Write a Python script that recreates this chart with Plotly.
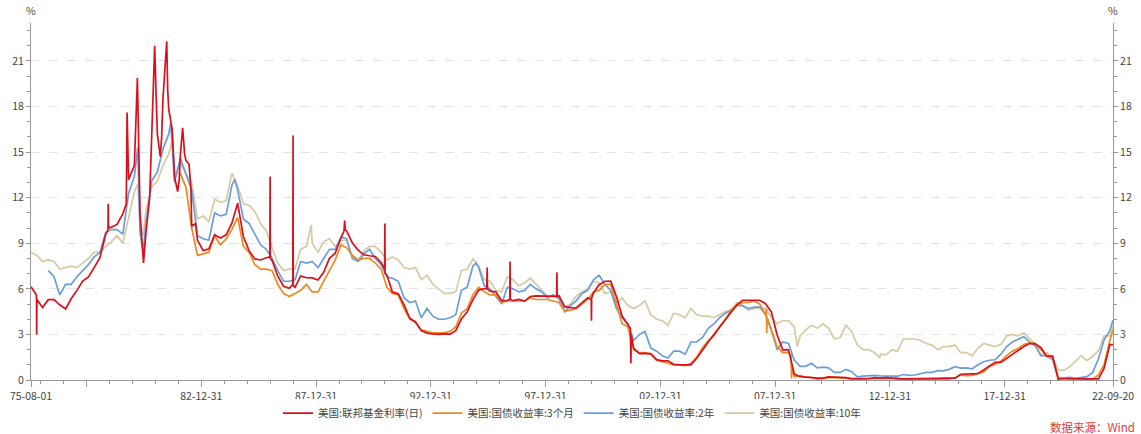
import pandas as pd
import plotly.graph_objects as go

# quarterly sample dates (Aug, Nov, Feb, May ...) plus final observation
q_dates = list(pd.date_range("1975-08-01", "2022-08-01", freq="3MS").strftime("%Y-%m-%d")) + ["2022-09-20"]

# 美国:联邦基金利率(日)
ff = [
    6.14, 5.22,                      # 1975 (Aug, Nov)
    4.77, 5.29, 5.29, 4.95,          # 1976
    4.68, 5.35, 5.90, 6.51,          # 1977
    6.78, 7.36, 8.04, 9.58,          # 1978
    10.06, 10.24, 10.94, 13.18,      # 1979
    14.13, 10.98, 9.61, 15.85,       # 1980
    16.17, 18.52, 17.82, 13.39,      # 1981
    14.78, 14.46, 10.12, 9.20,       # 1982
    8.51, 8.63, 9.56, 9.34,          # 1983
    9.56, 10.32, 11.64, 9.43,        # 1984
    8.50, 7.97, 7.90, 8.05,          # 1985
    7.86, 6.85, 6.17, 6.04,          # 1986
    6.10, 6.85, 6.73, 6.72,          # 1987
    6.58, 7.09, 8.01, 8.35,          # 1988
    9.36, 9.81, 9.02, 8.55,          # 1989
    8.24, 8.18, 8.13, 7.74,          # 1990
    6.91, 5.78, 5.68, 4.94,          # 1991
    4.06, 3.82, 3.25, 3.09,          # 1992
    3.03, 3.00, 3.04, 3.02,          # 1993
    3.25, 4.01, 4.47, 5.29,          # 1994
    5.92, 6.02, 5.85, 5.80,          # 1995
    5.22, 5.24, 5.22, 5.31,          # 1996
    5.19, 5.50, 5.54, 5.52,          # 1997
    5.51, 5.49, 5.55, 4.83,          # 1998
    4.76, 4.74, 5.07, 5.42,          # 1999
    5.73, 6.27, 6.50, 6.51,          # 2000
    5.49, 4.21, 3.65, 2.09,          # 2001
    1.74, 1.75, 1.74, 1.34,          # 2002
    1.26, 1.26, 1.03, 1.00,          # 2003
    1.01, 1.00, 1.43, 1.93,          # 2004
    2.50, 3.00, 3.50, 4.00,          # 2005
    4.49, 4.94, 5.25, 5.25,          # 2006
    5.26, 5.25, 5.02, 4.49,          # 2007
    2.98, 1.98, 2.00, 0.39,          # 2008
    0.22, 0.18, 0.16, 0.12,          # 2009
    0.13, 0.20, 0.19, 0.19,          # 2010
    0.16, 0.09, 0.10, 0.08,          # 2011
    0.10, 0.16, 0.13, 0.16,          # 2012
    0.15, 0.11, 0.08, 0.08,          # 2013
    0.07, 0.09, 0.09, 0.09,          # 2014
    0.11, 0.12, 0.14, 0.12,          # 2015
    0.38, 0.37, 0.40, 0.41,          # 2016
    0.66, 0.91, 1.16, 1.16,          # 2017
    1.42, 1.70, 1.91, 2.20,          # 2018
    2.40, 2.38, 2.13, 1.55,          # 2019
    1.58, 0.05, 0.10, 0.09,          # 2020
    0.08, 0.06, 0.09, 0.08,          # 2021
    0.08, 0.77, 2.33, 2.33,          # 2022 (Feb, May, Aug, Sep-20)
]

# daily spikes / swings of the fed funds rate
ff_extra_dates = [
    "1975-10-27", "1975-10-30", "1975-11-03",
    "1978-12-08", "1978-12-12", "1978-12-16",
    "1979-09-25", "1979-10-08", "1979-10-20",
    "1980-03-20", "1980-04-05", "1980-06-25", "1980-07-20", "1980-10-01",
    "1980-12-20", "1981-01-10", "1981-03-20", "1981-04-10",
    "1981-06-30", "1981-07-15", "1981-09-25", "1981-10-15",
    "1981-12-20", "1982-01-15", "1982-03-10", "1982-04-10",
    "1982-06-20", "1982-07-20", "1982-10-01",
    "1985-12-27", "1985-12-31", "1986-01-03",
    "1986-12-27", "1986-12-31", "1987-01-03",
    "1989-03-20", "1989-03-31", "1989-04-10",
    "1990-12-27", "1990-12-31", "1991-01-03",
    "1995-06-10", "1995-06-15", "1995-06-20",
    "1996-06-10", "1996-06-14", "1996-06-18",
    "1998-06-26", "1998-06-30", "1998-07-03",
    "1999-12-28", "1999-12-31", "2000-01-03",
    "2001-09-10", "2001-09-19", "2001-09-24",
]
ff_extra_values = [
    5.6, 3.0, 5.3,
    9.9, 11.6, 10.0,
    11.6, 17.6, 13.8,
    19.9, 16.5, 7.7, 9.0, 12.0,
    22.0, 19.0, 14.7, 16.0,
    22.3, 19.1, 16.5, 15.1,
    12.4, 13.2, 16.6, 14.9,
    14.2, 12.6, 10.3,
    8.1, 13.4, 8.0,
    6.3, 16.1, 6.2,
    9.8, 10.5, 9.9,
    7.3, 10.3, 7.0,
    6.0, 7.4, 6.0,
    5.3, 7.8, 5.3,
    5.5, 7.1, 5.5,
    5.3, 3.9, 5.4,
    3.4, 1.1, 3.0,
]

# 美国:国债收益率:3个月
t3m = [
    None, None,                      # 1975
    None, None, None, None,          # 1976
    None, None, None, None,          # 1977
    None, None, None, None,          # 1978
    None, None, None, None,          # 1979
    None, None, None, None,          # 1980
    None, None, None, None,          # 1981
    13.6, 12.7, 10.0, 8.2,           # 1982
    8.3, 8.4, 9.5, 8.9,              # 1983
    9.3, 9.9, 10.7, 8.8,             # 1984
    8.4, 7.6, 7.3, 7.3,              # 1985
    7.2, 6.3, 5.7, 5.5,              # 1986
    5.7, 5.9, 6.3, 5.8,              # 1987
    5.8, 6.5, 7.2, 7.9,              # 1988
    8.9, 8.7, 8.2, 7.9,              # 1989
    8.0, 8.0, 7.7, 7.3,              # 1990
    6.1, 5.7, 5.6, 4.7,              # 1991
    4.0, 3.8, 3.3, 3.2,              # 1992
    3.1, 3.1, 3.1, 3.2,              # 1993
    3.5, 4.4, 4.7, 5.6,              # 1994
    6.1, 5.8, 5.6, 5.6,              # 1995
    5.1, 5.2, 5.2, 5.2,              # 1996
    5.2, 5.4, 5.3, 5.3,              # 1997
    5.3, 5.2, 5.1, 4.5,              # 1998
    4.6, 4.7, 5.0, 5.3,              # 1999
    5.8, 5.9, 6.3, 6.3,              # 2000
    5.0, 3.7, 3.5, 2.0,              # 2001
    1.8, 1.8, 1.7, 1.3,              # 2002
    1.2, 1.1, 1.0, 1.0,              # 2003
    0.95, 1.1, 1.5, 2.1,             # 2004
    2.6, 2.9, 3.5, 4.0,              # 2005
    4.6, 4.9, 5.1, 5.1,              # 2006
    5.2, 5.0, 4.3, 3.3,              # 2007
    2.2, 1.8, 1.8, 0.2,              # 2008
    0.3, 0.18, 0.18, 0.05,           # 2009
    0.10, 0.16, 0.16, 0.14,          # 2010
    0.13, 0.05, 0.02, 0.01,          # 2011
    0.09, 0.09, 0.10, 0.09,          # 2012
    0.10, 0.05, 0.04, 0.07,          # 2013
    0.05, 0.03, 0.03, 0.02,          # 2014
    0.02, 0.02, 0.07, 0.13,          # 2015
    0.33, 0.28, 0.30, 0.45,          # 2016
    0.53, 0.90, 1.03, 1.25,          # 2017
    1.60, 1.90, 2.07, 2.33,          # 2018
    2.44, 2.40, 2.00, 1.57,          # 2019
    1.55, 0.13, 0.10, 0.09,          # 2020
    0.04, 0.02, 0.05, 0.05,          # 2021
    0.33, 1.00, 2.60, 3.30,          # 2022
]
t3m_extra_dates = ["1982-01-04", "2007-08-15", "2007-08-20", "2007-08-27",
                   "2008-09-10", "2008-09-17", "2008-09-25"]
t3m_extra_values = [13.6, 4.7, 3.1, 4.1, 1.6, 0.1, 0.8]

# 美国:国债收益率:2年
t2y = [
    None, None,                      # 1975
    None, 7.2, 6.8, 5.6,             # 1976
    6.3, 6.3, 6.8, 7.2,              # 1977
    7.6, 8.1, 8.4, 9.7,              # 1978
    9.9, 9.9, 9.6, 12.3,             # 1979
    13.4, 9.7, 10.2, 13.1,           # 1980
    13.7, 15.2, 16.2, 13.0,          # 1981
    14.6, 13.6, 12.5, 9.5,           # 1982
    9.3, 9.2, 11.0, 10.8,            # 1983
    10.9, 12.8, 12.5, 10.6,          # 1984
    10.3, 9.6, 8.9, 8.6,             # 1985
    8.0, 7.2, 6.5, 6.5,              # 1986
    6.6, 7.8, 7.7, 7.8,              # 1987
    7.4, 8.0, 8.6, 8.6,              # 1988
    9.4, 9.3, 8.0, 7.8,              # 1989
    8.3, 8.6, 8.0, 7.6,              # 1990
    6.8, 6.7, 6.5, 5.4,              # 1991
    5.1, 5.2, 4.1, 4.7,              # 1992
    4.2, 4.0, 4.0, 4.1,              # 1993
    4.3, 5.9, 6.1, 7.5,              # 1994
    7.4, 6.2, 6.0, 5.5,              # 1995
    5.0, 6.1, 6.0, 5.8,              # 1996
    5.9, 6.3, 6.0, 5.8,              # 1997
    5.4, 5.6, 5.4, 4.5,              # 1998
    4.9, 5.2, 5.7, 5.9,              # 1999
    6.6, 6.9, 6.3, 5.9,              # 2000
    4.7, 4.1, 3.7, 2.6,              # 2001
    3.0, 3.2, 2.1, 1.9,              # 2002
    1.6, 1.45, 1.9, 1.9,             # 2003
    1.7, 2.5, 2.5, 2.8,              # 2004
    3.4, 3.7, 4.1, 4.4,              # 2005
    4.6, 4.9, 4.9, 4.7,              # 2006
    4.8, 4.8, 4.3, 3.3,              # 2007
    2.0, 2.5, 2.4, 1.3,              # 2008
    0.9, 0.9, 1.1, 0.8,              # 2009
    0.85, 0.8, 0.5, 0.5,             # 2010
    0.7, 0.55, 0.2, 0.25,            # 2011
    0.3, 0.3, 0.27, 0.27,            # 2012
    0.27, 0.25, 0.36, 0.30,          # 2013
    0.33, 0.42, 0.50, 0.50,          # 2014
    0.62, 0.60, 0.70, 0.88,          # 2015
    0.78, 0.80, 0.74, 1.00,          # 2016
    1.20, 1.30, 1.33, 1.70,          # 2017
    2.20, 2.50, 2.65, 2.85,          # 2018
    2.50, 2.25, 1.60, 1.60,          # 2019
    1.35, 0.17, 0.14, 0.17,          # 2020
    0.11, 0.16, 0.22, 0.50,          # 2021
    1.40, 2.65, 3.25, 3.95,          # 2022
]
t2y_extra_dates = ["1980-03-25", "1980-06-20", "1981-09-01", "1984-06-15", "1994-12-20"]
t2y_extra_values = [15.3, 8.4, 16.9, 13.2, 7.7]

# 美国:国债收益率:10年
t10y = [
    8.4, 8.2,                        # 1975
    7.8, 7.9, 7.8, 7.3,              # 1976
    7.4, 7.5, 7.4, 7.7,              # 1977
    8.0, 8.4, 8.4, 8.8,              # 1978
    9.1, 9.5, 9.0, 10.7,             # 1979
    12.4, 10.3, 11.1, 12.7,          # 1980
    13.1, 14.1, 14.9, 13.4,          # 1981
    14.3, 13.6, 13.0, 10.6,          # 1982
    10.8, 10.4, 11.9, 11.7,          # 1983
    11.8, 13.6, 12.8, 11.6,          # 1984
    11.5, 11.1, 10.3, 9.8,           # 1985
    8.7, 7.7, 7.2, 7.3,              # 1986
    7.3, 8.6, 8.8, 9.0,              # 1987
    8.4, 9.1, 9.3, 8.8,              # 1988
    9.2, 9.2, 8.1, 7.9,              # 1989
    8.5, 8.8, 8.8, 8.4,              # 1990
    7.9, 8.1, 7.9, 7.4,              # 1991
    7.3, 7.4, 6.6, 6.9,              # 1992
    6.3, 6.0, 5.7, 5.7,              # 1993
    5.8, 7.2, 7.3, 7.96,             # 1994
    7.5, 6.6, 6.5, 5.9,              # 1995
    5.8, 6.8, 6.6, 6.2,              # 1996
    6.4, 6.7, 6.3, 5.9,              # 1997
    5.5, 5.6, 5.3, 4.8,              # 1998
    5.0, 5.5, 5.8, 6.0,              # 1999
    6.5, 6.4, 5.7, 5.8,              # 2000
    5.1, 5.4, 4.9, 4.7,              # 2001
    4.9, 5.2, 4.3, 4.0,              # 2002
    3.9, 3.6, 4.4, 4.3,              # 2003
    4.1, 4.7, 4.3, 4.2,              # 2004
    4.2, 4.1, 4.3, 4.5,              # 2005
    4.6, 5.1, 4.9, 4.6,              # 2006
    4.7, 4.75, 4.7, 4.15,            # 2007
    3.7, 3.9, 3.9, 3.5,              # 2008
    2.9, 3.3, 3.6, 3.4,              # 2009
    3.7, 3.4, 2.7, 2.8,              # 2010
    3.6, 3.2, 2.3, 2.0,              # 2011
    2.0, 1.8, 1.7, 1.65,             # 2012
    2.0, 1.9, 2.7, 2.7,              # 2013
    2.7, 2.6, 2.4, 2.3,              # 2014
    2.0, 2.2, 2.2, 2.3,              # 2015
    1.8, 1.8, 1.6, 2.1,              # 2016
    2.4, 2.3, 2.2, 2.35,             # 2017
    2.9, 3.0, 2.9, 3.1,              # 2018
    2.7, 2.4, 1.6, 1.8,              # 2019
    1.5, 0.67, 0.65, 0.87,           # 2020
    1.26, 1.6, 1.28, 1.56,           # 2021
    1.93, 2.9, 2.9, 3.57,            # 2022
]
t10y_extra_dates = ["1980-03-25", "1980-06-20", "1981-09-30", "1987-10-16", "2008-12-18", "2012-07-24"]
t10y_extra_values = [12.9, 9.5, 15.8, 10.2, 2.2, 1.45]

x_tickvals = ["1975-08-01", "1977-12-31", "1982-12-31", "1987-12-31", "1992-12-31",
              "1997-12-31", "2002-12-31", "2007-12-31", "2012-12-31", "2017-12-31", "2022-09-20"]
x_ticktext = ["75-08-01", "", "82-12-31", "87-12-31", "92-12-31",
              "97-12-31", "02-12-31", "07-12-31", "12-12-31", "17-12-31", "22-09-20"]
y_tickvals = [0, 3, 6, 9, 12, 15, 18, 21]


def merged(values, extra_dates=(), extra_values=()):
    s = pd.Series(values, index=pd.to_datetime(q_dates), dtype="float")
    if len(extra_dates):
        s = pd.concat([s, pd.Series(list(extra_values), index=pd.to_datetime(list(extra_dates)), dtype="float")])
    s = s.sort_index()
    return s


FONT = "Noto Sans CJK SC, Noto Sans, sans-serif"
series = [
    ("美国:国债收益率:10年", merged(t10y, t10y_extra_dates, t10y_extra_values), "#D8C9A3"),
    ("美国:国债收益率:2年", merged(t2y, t2y_extra_dates, t2y_extra_values), "#6A9EDB"),
    ("美国:国债收益率:3个月", merged(t3m, t3m_extra_dates, t3m_extra_values), "#EE8820"),
    ("美国:联邦基金利率(日)", merged(ff, ff_extra_dates, ff_extra_values), "#DA111C"),
]

fig = go.Figure()
for name, s, color in series:
    fig.add_trace(go.Scatter(
        x=s.index, y=s.values, name=name, mode="lines",
        line=dict(color=color, width=1.7), connectgaps=False,
    ))
# invisible anchor for the right-hand axis
fig.add_trace(go.Scatter(x=[q_dates[0]], y=[0], yaxis="y2", mode="markers",
                         marker=dict(opacity=0), showlegend=False, hoverinfo="skip"))

axis_col = "#999999"
tick_font = dict(size=10.5, color="#444444")
fig.update_layout(
    width=1141, height=434,
    margin=dict(l=31, r=28, t=23, b=54, autoexpand=False),
    paper_bgcolor="white", plot_bgcolor="white",
    font=dict(family=FONT, size=11, color="#444444"),
    showlegend=True,
    legend=dict(orientation="h", x=0.5, xanchor="center", y=-0.052, yanchor="top",
                traceorder="reversed", font=dict(size=10.5, color="#444444"),
                itemwidth=30),
    xaxis=dict(
        type="date", range=["1975-08-01", "2022-09-20"], automargin=False,
        tickvals=x_tickvals, ticktext=x_ticktext,
        ticks="outside", ticklen=6, tickcolor=axis_col,
        showline=True, linecolor=axis_col, linewidth=1,
        showgrid=False, zeroline=False,
        minor=dict(dtick="M12", tick0="1975-12-31", ticks="outside", ticklen=3,
                   tickcolor=axis_col, showgrid=False),
        tickfont=tick_font,
    ),
    yaxis=dict(
        range=[0, 23.5], tickvals=y_tickvals, automargin=False,
        ticks="outside", ticklen=4, tickcolor=axis_col,
        showline=True, linecolor=axis_col,
        showgrid=True, gridcolor="#E4E4E4", griddash="dash", gridwidth=1,
        zeroline=False,
        minor=dict(dtick=1, tick0=0, ticks="outside", ticklen=3, tickcolor=axis_col, showgrid=False),
        tickfont=tick_font,
    ),
    yaxis2=dict(
        range=[0, 23.5], tickvals=y_tickvals, overlaying="y", side="right", automargin=False,
        ticks="outside", ticklen=4, tickcolor=axis_col,
        showline=True, linecolor=axis_col, showgrid=False, zeroline=False,
        minor=dict(dtick=1, tick0=0, ticks="outside", ticklen=3, tickcolor=axis_col),
        tickfont=tick_font,
    ),
    annotations=[
        dict(text="%", xref="paper", yref="paper", x=0, y=1, xanchor="center", yanchor="bottom",
             yshift=3, showarrow=False, font=dict(size=10.5, color="#444444")),
        dict(text="%", xref="paper", yref="paper", x=1, y=1, xanchor="center", yanchor="bottom",
             yshift=3, showarrow=False, font=dict(size=10.5, color="#444444")),
        dict(text="数据来源：Wind", xref="paper", yref="paper", x=1.0225, y=-0.132,
             xanchor="right", yanchor="middle", showarrow=False,
             font=dict(size=11.5, color="#E03A3A")),
    ],
)

fig.write_html("out.html", config={"displayModeBar": False},
               post_script="document.body.style.margin='0';document.body.style.overflow='hidden';")
